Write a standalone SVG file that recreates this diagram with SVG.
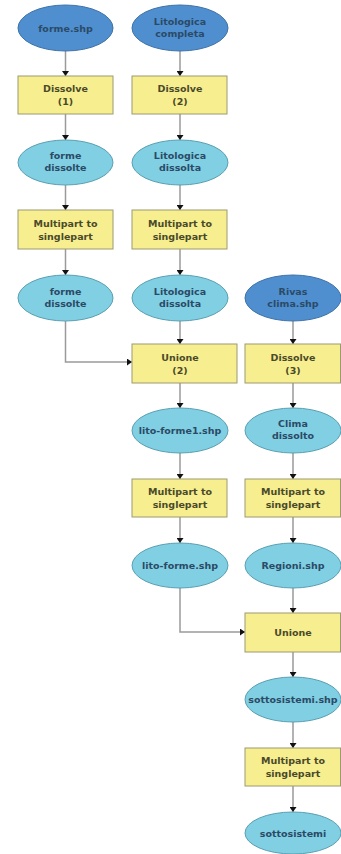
<svg xmlns="http://www.w3.org/2000/svg" width="341" height="854" viewBox="0 0 341 854">
<style>
.src{fill:#4f8fd0;stroke:#3f72a6;stroke-width:1}
.dat{fill:#80cfe2;stroke:#5a9fb2;stroke-width:1}
.proc{fill:#f7ee8f;stroke:#9c9a70;stroke-width:1}
text{font-family:"DejaVu Sans","Liberation Sans",sans-serif;font-size:9.5px;font-weight:bold;text-anchor:middle}
.te{fill:#2b4a66}
.tp{fill:#4a4a2a}
.c{fill:none;stroke:#9a9a9a;stroke-width:1.5;marker-end:url(#ah)}
</style>
<defs>
<marker id="ah" viewBox="0 0 5 7" refX="5" refY="3.5" markerWidth="5" markerHeight="7" markerUnits="userSpaceOnUse" orient="auto">
<path d="M0,0 L5,3.5 L0,7 z" fill="#111"/>
</marker>
</defs>
<rect width="341" height="854" fill="#fff"/>
<g id="connectors">
<path class="c" d="M65.5,51 V76"/>
<path class="c" d="M65.5,114 V140"/>
<path class="c" d="M65.5,185 V210"/>
<path class="c" d="M65.5,249 V275"/>
<path class="c" d="M65.5,321 V362 H132"/>
<path class="c" d="M180,51 V76"/>
<path class="c" d="M180,114 V140"/>
<path class="c" d="M180,185 V210"/>
<path class="c" d="M180,249 V275"/>
<path class="c" d="M180,321 V344"/>
<path class="c" d="M180,383 V408"/>
<path class="c" d="M180,453 V479"/>
<path class="c" d="M180,517 V543"/>
<path class="c" d="M180,588 V632 H245"/>
<path class="c" d="M293,321 V344"/>
<path class="c" d="M293,383 V408"/>
<path class="c" d="M293,453 V479"/>
<path class="c" d="M293,517 V543"/>
<path class="c" d="M293,588 V613"/>
<path class="c" d="M293,652 V677"/>
<path class="c" d="M293,722 V748"/>
<path class="c" d="M293,786 V812"/>
</g>
<g id="forme_shp"><ellipse class="src" cx="65.5" cy="28" rx="47.5" ry="23"/><text class="te" x="65.5" y="31.5">forme.shp</text></g>
<g id="litologica_completa"><ellipse class="src" cx="180" cy="28" rx="48" ry="23"/><text class="te" x="180" y="25">Litologica</text><text class="te" x="180" y="37">completa</text></g>
<g id="dissolve1"><rect class="proc" x="18" y="76" width="95" height="38"/><text class="tp" x="65.5" y="92">Dissolve</text><text class="tp" x="65.5" y="105">(1)</text></g>
<g id="dissolve2"><rect class="proc" x="132" y="76" width="95" height="38"/><text class="tp" x="180" y="92">Dissolve</text><text class="tp" x="180" y="105">(2)</text></g>
<g id="forme_dissolte1"><ellipse class="dat" cx="65.5" cy="162.5" rx="47.5" ry="22.5"/><text class="te" x="65.5" y="159">forme</text><text class="te" x="65.5" y="171">dissolte</text></g>
<g id="lito_dissolta1"><ellipse class="dat" cx="180" cy="162.5" rx="48" ry="22.5"/><text class="te" x="180" y="159">Litologica</text><text class="te" x="180" y="171">dissolta</text></g>
<g id="m2s1"><rect class="proc" x="18" y="210" width="95" height="39"/><text class="tp" x="65.5" y="227">Multipart to</text><text class="tp" x="65.5" y="240">singlepart</text></g>
<g id="m2s2"><rect class="proc" x="132" y="210" width="95" height="39"/><text class="tp" x="180" y="227">Multipart to</text><text class="tp" x="180" y="240">singlepart</text></g>
<g id="forme_dissolte2"><ellipse class="dat" cx="65.5" cy="298" rx="47.5" ry="23"/><text class="te" x="65.5" y="295">forme</text><text class="te" x="65.5" y="307">dissolte</text></g>
<g id="lito_dissolta2"><ellipse class="dat" cx="180" cy="298" rx="48" ry="23"/><text class="te" x="180" y="295">Litologica</text><text class="te" x="180" y="307">dissolta</text></g>
<g id="rivas_clima"><ellipse class="src" cx="293" cy="298" rx="48" ry="23"/><text class="te" x="293" y="295">Rivas</text><text class="te" x="293" y="307">clima.shp</text></g>
<g id="unione2"><rect class="proc" x="132" y="344" width="105" height="39"/><text class="tp" x="180" y="361">Unione</text><text class="tp" x="180" y="374">(2)</text></g>
<g id="dissolve3"><rect class="proc" x="245" y="344" width="95.5" height="39"/><text class="tp" x="293" y="361">Dissolve</text><text class="tp" x="293" y="374">(3)</text></g>
<g id="lito_forme1"><ellipse class="dat" cx="180" cy="430.5" rx="48" ry="22.5"/><text class="te" x="180" y="434">lito-forme1.shp</text></g>
<g id="clima_dissolto"><ellipse class="dat" cx="293" cy="430.5" rx="48" ry="22.5"/><text class="te" x="293" y="427">Clima</text><text class="te" x="293" y="439">dissolto</text></g>
<g id="m2s3"><rect class="proc" x="132" y="479" width="95" height="38"/><text class="tp" x="180" y="495">Multipart to</text><text class="tp" x="180" y="508">singlepart</text></g>
<g id="m2s4"><rect class="proc" x="245" y="479" width="95.5" height="38"/><text class="tp" x="293" y="495">Multipart to</text><text class="tp" x="293" y="508">singlepart</text></g>
<g id="lito_forme"><ellipse class="dat" cx="180" cy="565.5" rx="48" ry="22.5"/><text class="te" x="180" y="569">lito-forme.shp</text></g>
<g id="regioni"><ellipse class="dat" cx="293" cy="565.5" rx="48" ry="22.5"/><text class="te" x="293" y="569">Regioni.shp</text></g>
<g id="unione"><rect class="proc" x="245" y="613" width="95.5" height="39"/><text class="tp" x="293" y="636">Unione</text></g>
<g id="sottosistemi_shp"><ellipse class="dat" cx="293" cy="699.5" rx="48" ry="22.5"/><text class="te" x="293" y="703">sottosistemi.shp</text></g>
<g id="m2s5"><rect class="proc" x="245" y="748" width="95.5" height="38"/><text class="tp" x="293" y="764">Multipart to</text><text class="tp" x="293" y="777">singlepart</text></g>
<g id="sottosistemi"><ellipse class="dat" cx="293" cy="833" rx="48" ry="21"/><text class="te" x="293" y="837">sottosistemi</text></g>
</svg>
